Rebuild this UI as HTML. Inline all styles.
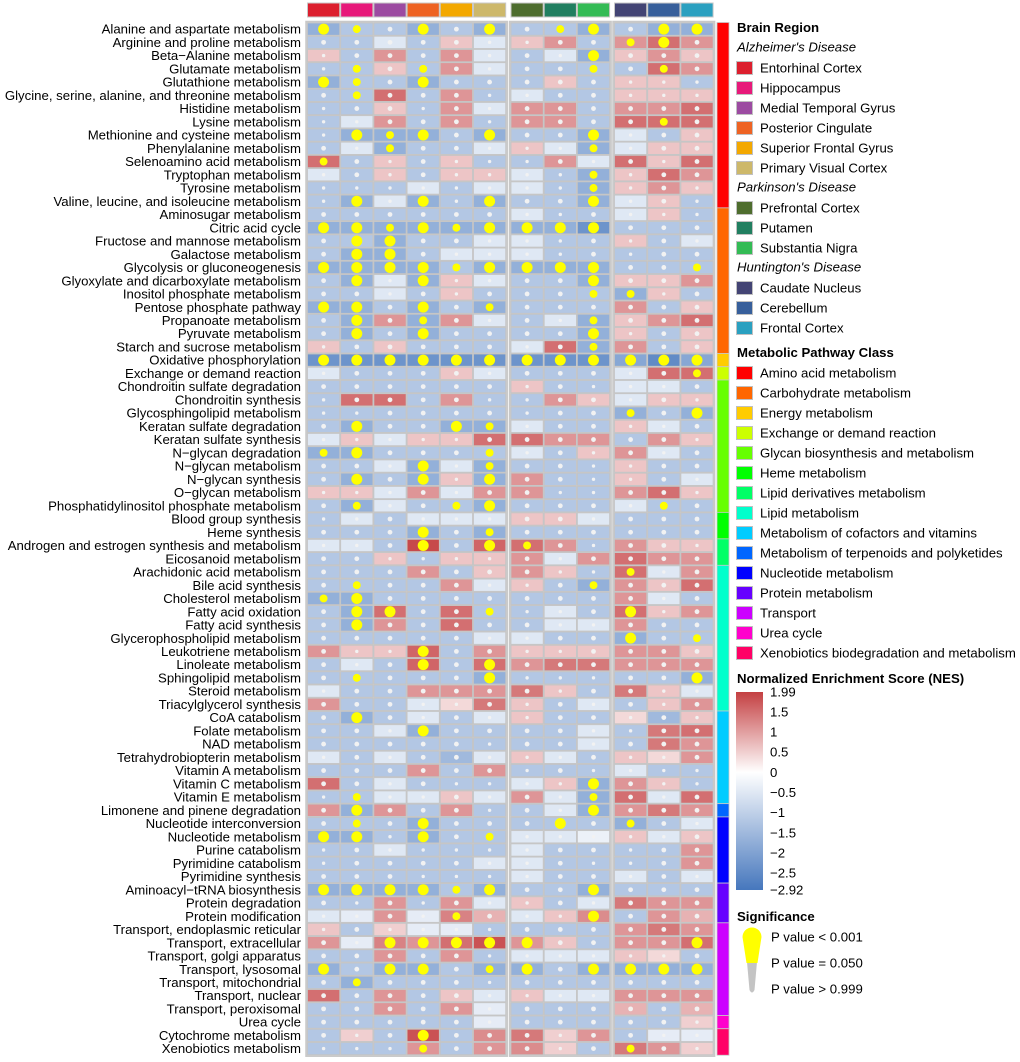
<!DOCTYPE html>
<html><head><meta charset="utf-8"><style>
html,body{margin:0;padding:0;background:#fff;}
svg{display:block;font-family:"Liberation Sans",Arial,sans-serif;}
</style></head><body>
<svg id="chart" width="1020" height="1062" viewBox="0 0 1020 1062" xmlns="http://www.w3.org/2000/svg">
<defs>
<linearGradient id="nesgrad" x1="0" y1="0" x2="0" y2="1">
<stop offset="0" stop-color="rgb(196,64,66)"/>
<stop offset="0.405" stop-color="#ffffff"/>
<stop offset="1" stop-color="rgb(70,119,189)"/>
</linearGradient>
</defs>
<g id="heat"></g>
<g id="legend"></g>
</svg>
<script>
const pathways = ["Alanine and aspartate metabolism","Arginine and proline metabolism","Beta\u2212Alanine metabolism","Glutamate metabolism","Glutathione metabolism","Glycine, serine, alanine, and threonine metabolism","Histidine metabolism","Lysine metabolism","Methionine and cysteine metabolism","Phenylalanine metabolism","Selenoamino acid metabolism","Tryptophan metabolism","Tyrosine metabolism","Valine, leucine, and isoleucine metabolism","Aminosugar metabolism","Citric acid cycle","Fructose and mannose metabolism","Galactose metabolism","Glycolysis or gluconeogenesis","Glyoxylate and dicarboxylate metabolism","Inositol phosphate metabolism","Pentose phosphate pathway","Propanoate metabolism","Pyruvate metabolism","Starch and sucrose metabolism","Oxidative phosphorylation","Exchange or demand reaction","Chondroitin sulfate degradation","Chondroitin synthesis","Glycosphingolipid metabolism","Keratan sulfate degradation","Keratan sulfate synthesis","N\u2212glycan degradation","N\u2212glycan metabolism","N\u2212glycan synthesis","O\u2212glycan metabolism","Phosphatidylinositol phosphate metabolism","Blood group synthesis","Heme synthesis","Androgen and estrogen synthesis and metabolism","Eicosanoid metabolism","Arachidonic acid metabolism","Bile acid synthesis","Cholesterol metabolism","Fatty acid oxidation","Fatty acid synthesis","Glycerophospholipid metabolism","Leukotriene metabolism","Linoleate metabolism","Sphingolipid metabolism","Steroid metabolism","Triacylglycerol synthesis","CoA catabolism","Folate metabolism","NAD metabolism","Tetrahydrobiopterin metabolism","Vitamin A metabolism","Vitamin C metabolism","Vitamin E metabolism","Limonene and pinene degradation","Nucleotide interconversion","Nucleotide metabolism","Purine catabolism","Pyrimidine catabolism","Pyrimidine synthesis","Aminoacyl\u2212tRNA biosynthesis","Protein degradation","Protein modification","Transport, endoplasmic reticular","Transport, extracellular","Transport, golgi apparatus","Transport, lysosomal","Transport, mitochondrial","Transport, nuclear","Transport, peroxisomal","Urea cycle","Cytochrome metabolism","Xenobiotics metabolism"];
const regions = ["Entorhinal Cortex","Hippocampus","Medial Temporal Gyrus","Posterior Cingulate","Superior Frontal Gyrus","Primary Visual Cortex","Prefrontal Cortex","Putamen","Substantia Nigra","Caudate Nucleus","Cerebellum","Frontal Cortex"];
const regionColors = ["#dc1f2e","#e7197a","#9c4ba1","#ee6323","#f3a800","#cdb86a","#4e6d2e","#217f60","#33bb55","#434474","#375f9b","#2aa0c0"];
const diseases = ["Alzheimer's Disease","Parkinson's Disease","Huntington's Disease"];
const diseaseCounts = [6,3,3];
const classes = ["Amino acid metabolism","Carbohydrate metabolism","Energy metabolism","Exchange or demand reaction","Glycan biosynthesis and metabolism","Heme metabolism","Lipid derivatives metabolism","Lipid metabolism","Metabolism of cofactors and vitamins","Metabolism of terpenoids and polyketides","Nucleotide metabolism","Protein metabolism","Transport","Urea cycle","Xenobiotics biodegradation and metabolism"];
const classColors = ["#ff0000","#ff6600","#ffcc00","#ccff00","#66ff00","#00ff00","#00ff66","#00ffcc","#00ccff","#0066ff","#0000ff","#6600ff","#cc00ff","#ff00cc","#ff0066"];
const classCounts = [14,11,1,1,10,2,2,11,7,1,5,3,7,1,2];
const nesTicks = [1.99,1.5,1,0.5,0,-0.5,-1,-1.5,-2,-2.5,-2.92];
const nes = [
[-1.7,-1.2,-1.2,-1.7,-1.2,-1.7,-1.2,-1.2,-1.7,-1.2,-1.7,-1.7],
[-1.2,-1.2,-0.5,-1.2,0.6,-0.5,0.6,1.1,-1.2,1.1,1.5,1.1],
[0.6,-1.2,1.1,-1.2,1.1,-0.5,-1.2,-0.5,-1.7,0.6,1.1,0.6],
[-1.2,-1.2,0.6,-1.2,1.1,-0.5,-1.2,-1.2,-1.2,-1.2,1.5,1.1],
[-1.7,-1.2,-1.2,-1.7,-1.2,-1.2,-1.2,0.6,-1.2,0.6,0.6,-1.2],
[-1.2,-1.2,1.5,-1.2,1.1,-1.2,-0.5,-1.2,-1.2,0.6,0.6,0.6],
[-1.2,-1.2,0.6,-1.2,1.1,-0.5,1.1,1.1,-1.2,1.1,1.1,1.5],
[-1.2,-0.5,1.1,-1.2,1.1,-1.2,1.1,1.1,-1.2,1.5,1.5,1.5],
[-1.2,-1.7,-1.7,-1.7,-1.2,-1.7,-1.2,-1.2,-1.7,-0.5,-1.2,0.6],
[-1.2,-0.5,-1.7,-1.2,-1.2,-0.5,0.6,-0.5,-1.7,-0.5,0.6,0.6],
[1.5,-1.2,0.6,-1.2,0.6,-1.2,-1.2,1.1,-0.5,1.5,0.6,1.5],
[-0.5,-1.2,0.6,-1.2,0.6,0.6,-0.5,-1.2,-1.7,0.6,1.5,1.1],
[-1.2,-1.2,-1.2,-0.5,-1.2,-0.5,-0.5,-1.2,-1.7,0.6,1.1,0.6],
[-1.2,-1.7,-0.5,-1.7,-1.2,-1.7,-1.2,-1.2,-1.7,-0.5,0.6,-1.2],
[-1.2,-1.2,-1.2,-1.2,-1.2,-1.2,-0.5,-1.2,-1.2,-0.5,0.6,-1.2],
[-1.7,-1.7,-1.7,-1.7,-1.7,-1.7,-1.7,-1.7,-2.3,-1.2,-1.2,-1.2],
[-1.2,-1.2,-1.7,-1.2,-1.2,-0.5,-0.5,-1.2,-1.2,0.6,-1.2,-0.5],
[-1.2,-1.7,-1.7,-1.2,-0.5,-0.5,-0.5,-1.2,-1.2,-1.2,-1.2,-1.2],
[-1.7,-1.7,-1.7,-1.7,-1.2,-1.7,-1.7,-1.7,-1.7,-1.2,-1.2,-1.2],
[-1.2,-1.7,-0.5,-1.7,0.6,-0.5,-1.2,-1.2,-1.7,0.6,0.6,1.1],
[-1.2,-1.2,-0.5,-1.2,0.6,-1.2,-1.2,-1.2,-1.2,-1.7,0.6,-1.2],
[-1.7,-1.7,-1.2,-1.7,-1.2,-1.7,-1.2,-1.2,-1.2,1.1,-1.2,0.6],
[-1.2,-1.7,1.1,-1.7,1.1,-0.5,-1.2,-0.5,-1.7,0.6,1.1,1.5],
[-1.2,-1.7,-1.2,-1.7,-1.2,-1.2,-1.2,-1.2,-1.7,0.6,-1.2,0.6],
[0.6,-1.2,0.6,-1.2,-1.2,-1.2,-0.5,1.5,-1.7,1.1,-1.2,0.6],
[-2.3,-2.3,-2.3,-2.3,-2.3,-2.3,-2.3,-2.3,-2.3,-1.9,-2.5,-1.9],
[-0.5,-1.2,-1.2,-1.2,0.6,-0.5,-1.2,-1.2,-1.2,-0.5,1.5,1.5],
[-1.2,-1.2,-1.2,-1.2,-1.2,-1.2,0.6,-1.2,-1.2,-0.5,-0.5,-1.2],
[-1.2,1.5,1.5,-1.2,1.1,-1.2,-1.2,1.1,0.6,-0.5,0.6,0.6],
[-1.2,-1.2,-1.2,-1.2,-1.2,-1.2,-1.2,-1.2,-1.2,-1.7,-1.2,-1.7],
[-1.2,-1.7,-1.2,-1.2,-1.7,-1.7,-0.5,-1.2,-1.2,0.6,-0.5,-1.2],
[-0.5,0.6,-0.5,0.6,0.6,1.5,1.5,1.1,1.1,-1.2,1.1,0.6],
[-1.7,-1.7,-1.2,-1.2,-1.2,-1.2,-0.5,-1.2,0.6,1.1,-0.5,-1.2],
[-1.2,-1.2,-0.5,-1.7,-0.5,-1.7,-1.2,-1.2,-1.2,0.6,-1.2,-1.2],
[-1.2,-1.7,-1.2,-1.7,0.6,-1.7,1.1,-1.2,-1.2,0.6,-1.2,-0.5],
[0.6,0.6,-0.5,1.1,-0.5,1.1,1.1,-1.2,-1.2,1.1,1.5,0.6],
[-1.2,-1.7,-0.5,-1.2,-1.2,-1.7,-1.2,-1.2,-1.2,-0.5,-1.2,-1.2],
[-1.2,-0.5,-1.2,-0.5,-0.5,-0.5,0.6,0.6,-0.5,-1.2,-1.2,-1.2],
[-1.2,-1.2,-1.2,-1.7,-1.2,-1.7,-1.2,-1.2,-1.2,-1.2,-1.2,-1.2],
[-0.5,-0.5,-1.2,1.9,-1.2,1.6,1.5,1.1,-1.2,1.1,0.6,0.6],
[-1.2,-1.2,0.6,-1.2,0.6,0.6,1.1,-0.5,1.1,1.5,1.1,1.1],
[-1.2,-1.2,-1.2,1.1,-1.2,0.6,1.1,0.6,-1.2,1.5,-0.5,1.1],
[-1.2,-1.2,-1.2,-1.2,1.1,-0.5,0.6,-1.2,-1.7,1.1,0.6,1.5],
[-1.7,-1.7,-1.2,-1.2,-1.2,-1.2,-1.2,-1.2,-1.2,1.1,-0.5,-1.2],
[-1.2,-1.7,1.5,-1.2,1.5,-1.2,-1.2,-0.5,-1.2,1.5,0.6,1.1],
[-1.2,-1.7,1.1,-1.2,1.5,-1.2,-1.2,-0.5,-0.5,1.1,-1.2,-1.2],
[-1.2,-1.2,-1.2,-1.2,-1.2,-0.5,-0.5,-1.2,-1.2,-1.7,-1.2,-1.2],
[1.1,0.6,0.6,1.6,-1.2,1.1,0.6,0.6,0.6,1.1,1.1,0.6],
[-1.2,-0.5,-1.2,1.6,-1.2,1.5,1.1,1.4,1.4,1.1,1.1,1.1],
[-1.2,-1.2,-1.2,-1.2,-1.2,-1.7,-1.2,-1.2,-1.2,-1.2,-1.2,-1.7],
[-0.5,-1.2,-1.2,1.1,1.1,1.1,1.4,0.6,-1.2,1.4,0.6,-0.5],
[1.1,-1.2,-1.2,-0.5,0.4,1.4,0.6,-1.2,-0.5,-1.2,0.6,1.1],
[-1.2,-1.7,-1.2,-0.5,-1.2,-0.5,0.6,-1.2,-1.2,0.4,-1.5,0.6],
[-1.2,-1.2,-0.5,-1.7,-1.2,-1.2,-1.2,-1.2,-0.5,-1.2,1.4,1.5],
[-1.2,-1.2,-1.2,-1.2,-1.2,-1.2,-1.2,-1.2,-0.5,-1.2,1.4,1.1],
[-0.5,-1.2,-0.5,-1.2,-1.5,-0.5,0.6,-0.5,-1.2,0.6,0.4,1.1],
[-1.2,-1.2,-1.2,1.1,-1.2,1.1,-1.2,-1.2,-1.2,-0.5,-1.2,-1.2],
[1.5,-1.2,-0.5,-1.2,-1.2,-1.2,-0.5,0.6,-1.7,1.1,0.6,-1.2],
[-1.2,-1.2,-0.5,-0.5,0.6,-0.5,1.1,-0.5,-1.7,1.5,-0.5,1.5],
[1.1,-1.7,1.1,-1.2,1.1,-1.2,-1.2,-0.5,-1.7,1.1,1.4,1.1],
[-1.2,-1.2,-1.2,-1.7,-1.2,-1.2,-1.2,-1.2,-1.2,-1.7,-1.2,-0.5],
[-1.7,-1.7,-1.2,-1.7,-1.2,-1.2,-0.5,-0.5,-0.3,0.6,-0.5,0.6],
[-1.2,-1.2,-0.5,-1.2,-1.2,-1.2,-0.5,-1.2,-1.2,-1.2,-1.2,1.1],
[-1.2,-1.2,-1.2,-1.2,-1.2,-0.5,-0.5,-1.2,-1.2,-1.2,-1.2,1.1],
[-1.2,-1.2,-1.2,-1.2,-1.2,-1.2,-0.5,-1.2,-1.2,-0.5,-1.2,-0.5],
[-1.7,-1.7,-1.7,-1.7,-1.2,-1.7,-1.2,-1.2,-1.7,-1.2,-1.2,-1.2],
[-1.2,-1.2,1.1,-1.2,1.1,-0.5,0.6,-1.2,-0.5,1.4,1.1,1.1],
[-0.5,-0.4,1.1,-0.4,1.3,0.8,-0.5,0.6,1.2,-1.2,1.1,0.8],
[0.6,-1.2,0.5,-0.4,-0.4,-1.2,-1.2,-1.2,-1.2,1.1,1.4,1.1],
[1.1,-0.4,1.3,1.1,1.5,1.8,1.1,0.6,-1.2,1.1,1.1,1.5],
[-1.2,-1.2,1.1,-1.2,1.1,-1.2,-0.5,-0.5,-0.5,0.6,0.4,-1.2],
[-1.7,-1.2,-1.7,-1.7,-1.2,-1.7,-1.7,-1.2,-1.7,-1.7,-1.7,-1.7],
[-1.2,-1.7,-1.2,-1.2,-1.2,-1.2,-1.2,-1.2,-1.2,-1.2,-1.2,-1.2],
[1.5,-1.2,1.1,-1.2,0.6,-0.5,0.6,-0.5,-0.5,1.1,1.1,1.1],
[-1.2,-1.2,1.1,-1.2,1.1,-0.4,-1.2,-1.2,-1.2,0.8,-1.2,0.8],
[-1.2,-1.2,-1.2,-1.2,-1.2,-0.4,-1.2,-1.2,-1.2,-1.2,-1.2,0.5],
[-1.2,0.5,-1.2,1.8,-1.2,1.2,1.4,0.5,1.1,-1.2,-0.4,-0.4],
[-1.2,-1.2,-1.2,1.1,-1.2,1.1,1.2,0.5,-1.2,1.4,1.1,0.5]
];
const pval = [
[0.0005,0.02,0.3,0.0005,0.3,0.0005,0.3,0.02,0.0005,0.3,0.0005,0.0005],
[0.3,0.3,0.3,0.3,0.3,0.8,0.8,0.3,0.3,0.02,0.0005,0.3],
[0.8,0.3,0.3,0.3,0.3,0.8,0.3,0.8,0.0005,0.3,0.3,0.3],
[0.8,0.02,0.3,0.02,0.3,0.8,0.3,0.3,0.02,0.3,0.02,0.3],
[0.0005,0.02,0.3,0.0005,0.3,0.3,0.3,0.3,0.3,0.8,0.8,0.8],
[0.3,0.02,0.3,0.3,0.3,0.8,0.8,0.3,0.3,0.8,0.8,0.8],
[0.8,0.3,0.3,0.8,0.3,0.8,0.3,0.3,0.3,0.3,0.3,0.3],
[0.8,0.8,0.3,0.3,0.3,0.8,0.3,0.3,0.3,0.3,0.02,0.3],
[0.8,0.0005,0.02,0.0005,0.3,0.0005,0.3,0.3,0.0005,0.8,0.3,0.3],
[0.3,0.8,0.02,0.3,0.3,0.8,0.8,0.8,0.02,0.8,0.3,0.3],
[0.02,0.3,0.8,0.3,0.8,0.8,0.8,0.3,0.8,0.3,0.8,0.3],
[0.8,0.3,0.8,0.3,0.8,0.8,0.8,0.8,0.02,0.8,0.3,0.3],
[0.8,0.8,0.8,0.8,0.8,0.8,0.8,0.8,0.02,0.8,0.3,0.8],
[0.8,0.0005,0.8,0.0005,0.8,0.0005,0.3,0.3,0.0005,0.8,0.3,0.8],
[0.3,0.3,0.3,0.3,0.3,0.3,0.8,0.8,0.3,0.8,0.8,0.8],
[0.0005,0.0005,0.02,0.0005,0.02,0.0005,0.0005,0.0005,0.0005,0.3,0.3,0.3],
[0.3,0.0005,0.0005,0.3,0.3,0.8,0.8,0.8,0.3,0.8,0.3,0.8],
[0.3,0.0005,0.0005,0.3,0.8,0.8,0.8,0.8,0.3,0.8,0.3,0.3],
[0.0005,0.0005,0.0005,0.0005,0.02,0.0005,0.0005,0.0005,0.0005,0.3,0.3,0.02],
[0.3,0.0005,0.8,0.0005,0.8,0.8,0.3,0.3,0.0005,0.3,0.3,0.3],
[0.3,0.3,0.8,0.3,0.8,0.3,0.3,0.3,0.02,0.02,0.8,0.3],
[0.0005,0.0005,0.3,0.0005,0.3,0.02,0.3,0.3,0.3,0.3,0.3,0.3],
[0.3,0.0005,0.3,0.02,0.3,0.8,0.3,0.8,0.02,0.3,0.3,0.3],
[0.3,0.0005,0.3,0.0005,0.3,0.3,0.3,0.3,0.0005,0.8,0.3,0.3],
[0.8,0.3,0.3,0.3,0.3,0.3,0.8,0.3,0.02,0.3,0.3,0.3],
[0.0005,0.0005,0.0005,0.0005,0.0005,0.0005,0.0005,0.0005,0.0005,0.0005,0.0005,0.0005],
[0.8,0.3,0.3,0.3,0.3,0.8,0.3,0.3,0.3,0.8,0.3,0.02],
[0.3,0.3,0.3,0.3,0.3,0.3,0.8,0.3,0.8,0.8,0.8,0.3],
[0.8,0.3,0.3,0.3,0.3,0.8,0.8,0.3,0.3,0.8,0.3,0.8],
[0.8,0.8,0.3,0.3,0.3,0.3,0.8,0.3,0.3,0.02,0.3,0.0005],
[0.3,0.0005,0.3,0.3,0.0005,0.02,0.8,0.3,0.3,0.8,0.8,0.3],
[0.8,0.8,0.8,0.8,0.8,0.3,0.3,0.3,0.3,0.3,0.3,0.8],
[0.02,0.0005,0.3,0.3,0.3,0.02,0.8,0.3,0.8,0.3,0.8,0.3],
[0.3,0.3,0.8,0.0005,0.8,0.02,0.3,0.3,0.8,0.8,0.3,0.3],
[0.3,0.0005,0.3,0.0005,0.8,0.0005,0.3,0.3,0.8,0.8,0.3,0.8],
[0.8,0.8,0.8,0.3,0.8,0.3,0.3,0.8,0.8,0.3,0.3,0.8],
[0.3,0.02,0.8,0.3,0.02,0.0005,0.3,0.3,0.3,0.8,0.02,0.3],
[0.8,0.8,0.3,0.8,0.8,0.8,0.3,0.3,0.8,0.3,0.3,0.3],
[0.3,0.3,0.3,0.0005,0.3,0.02,0.3,0.3,0.3,0.3,0.3,0.3],
[0.8,0.8,0.3,0.0005,0.3,0.0005,0.02,0.3,0.8,0.3,0.3,0.8],
[0.3,0.3,0.8,0.8,0.8,0.8,0.3,0.8,0.3,0.3,0.3,0.3],
[0.3,0.3,0.3,0.3,0.3,0.3,0.3,0.8,0.8,0.02,0.8,0.3],
[0.3,0.02,0.3,0.3,0.3,0.8,0.8,0.3,0.02,0.3,0.3,0.3],
[0.02,0.0005,0.3,0.3,0.3,0.3,0.3,0.3,0.3,0.3,0.8,0.3],
[0.3,0.0005,0.0005,0.3,0.3,0.02,0.8,0.8,0.3,0.0005,0.8,0.3],
[0.3,0.0005,0.3,0.3,0.3,0.3,0.3,0.8,0.8,0.3,0.3,0.3],
[0.3,0.3,0.3,0.3,0.3,0.8,0.8,0.3,0.3,0.0005,0.3,0.02],
[0.3,0.8,0.8,0.0005,0.3,0.3,0.8,0.8,0.3,0.3,0.3,0.3],
[0.3,0.8,0.3,0.0005,0.3,0.0005,0.3,0.3,0.3,0.3,0.3,0.3],
[0.3,0.02,0.3,0.3,0.3,0.0005,0.8,0.8,0.8,0.3,0.3,0.0005],
[0.8,0.3,0.3,0.3,0.3,0.3,0.3,0.8,0.3,0.3,0.8,0.8],
[0.3,0.3,0.3,0.8,0.8,0.3,0.8,0.3,0.8,0.3,0.8,0.3],
[0.3,0.0005,0.3,0.8,0.3,0.8,0.8,0.3,0.3,0.8,0.3,0.8],
[0.3,0.3,0.8,0.0005,0.3,0.3,0.3,0.3,0.8,0.8,0.3,0.3],
[0.3,0.3,0.3,0.3,0.3,0.8,0.3,0.3,0.8,0.3,0.3,0.3],
[0.8,0.3,0.8,0.3,0.3,0.8,0.8,0.8,0.3,0.8,0.8,0.3],
[0.3,0.3,0.3,0.3,0.3,0.3,0.8,0.3,0.8,0.8,0.8,0.8],
[0.3,0.3,0.8,0.3,0.8,0.8,0.8,0.8,0.0005,0.3,0.8,0.8],
[0.8,0.02,0.8,0.8,0.3,0.8,0.3,0.8,0.02,0.3,0.8,0.3],
[0.3,0.0005,0.3,0.3,0.3,0.8,0.3,0.8,0.0005,0.3,0.3,0.3],
[0.3,0.02,0.3,0.0005,0.3,0.3,0.3,0.0005,0.3,0.02,0.3,0.8],
[0.0005,0.0005,0.8,0.0005,0.3,0.02,0.8,0.8,0.8,0.8,0.8,0.3],
[0.8,0.3,0.8,0.8,0.8,0.8,0.8,0.3,0.3,0.8,0.3,0.3],
[0.8,0.3,0.3,0.3,0.3,0.8,0.8,0.3,0.8,0.8,0.3,0.3],
[0.3,0.3,0.3,0.8,0.8,0.8,0.8,0.3,0.3,0.8,0.3,0.8],
[0.0005,0.0005,0.0005,0.0005,0.02,0.0005,0.3,0.3,0.0005,0.3,0.3,0.3],
[0.3,0.8,0.3,0.8,0.3,0.8,0.8,0.3,0.8,0.3,0.3,0.3],
[0.8,0.8,0.3,0.8,0.02,0.3,0.8,0.8,0.0005,0.3,0.3,0.3],
[0.8,0.3,0.8,0.8,0.8,0.8,0.3,0.3,0.3,0.3,0.3,0.3],
[0.3,0.8,0.0005,0.0005,0.0005,0.0005,0.0005,0.3,0.3,0.3,0.3,0.0005],
[0.3,0.3,0.3,0.3,0.3,0.8,0.8,0.8,0.8,0.8,0.8,0.3],
[0.0005,0.3,0.0005,0.0005,0.3,0.02,0.0005,0.3,0.0005,0.0005,0.0005,0.0005],
[0.3,0.02,0.3,0.3,0.3,0.8,0.3,0.3,0.3,0.3,0.3,0.3],
[0.3,0.3,0.3,0.3,0.3,0.8,0.8,0.8,0.8,0.3,0.3,0.3],
[0.3,0.3,0.3,0.3,0.3,0.8,0.3,0.3,0.3,0.3,0.3,0.3],
[0.3,0.3,0.3,0.3,0.3,0.8,0.3,0.3,0.3,0.3,0.3,0.8],
[0.3,0.8,0.3,0.0005,0.3,0.3,0.3,0.8,0.3,0.3,0.8,0.8],
[0.8,0.8,0.8,0.02,0.3,0.3,0.3,0.8,0.3,0.02,0.3,0.8]
];

const NS = "http://www.w3.org/2000/svg";
function mk(tag, attrs, parent){const e=document.createElementNS(NS,tag);for(const k in attrs)e.setAttribute(k,attrs[k]);(parent||document.getElementById('heat')).appendChild(e);return e;}
const Y0=22.5, RH=13.24, CW=33.2;
const groupX=[307,510.5,614];
function colX(j){let g=j<6?0:(j<9?1:2);let off=j<6?j:(j<9?j-6:j-9);return groupX[g]+off*CW;}
function rowY(i){return Y0+i*RH;}
function nesColor(v){
  let t,c;
  if(v<0){t=Math.min(1,v/-2.92);c=[70,119,189];}else{t=Math.min(1,v/1.99);c=[196,64,66];}
  const r=Math.round(255-t*(255-c[0])),g=Math.round(255-t*(255-c[1])),b=Math.round(255-t*(255-c[2]));
  return `rgb(${r},${g},${b})`;
}
function dotR(p){if(p<=0.001)return 5.5;if(p<=0.05)return 5.5-2*Math.log10(p/0.001)/Math.log10(50);return p<0.5?2.4:1.7;}
function dotColor(p){return p<=0.05?"#ffff00":"#f2f2f2";}

const heat=document.getElementById('heat');
regions.forEach((r,j)=>{
  const e=mk('rect',{x:colX(j)+0.5,y:3,width:CW-1,height:14,fill:regionColors[j],stroke:"#c8c8c8","stroke-width":1});
  
  
});
[[0,6],[6,3],[9,3]].forEach((g,k)=>{
  const e=mk('rect',{x:colX(g[0])-1,y:Y0-1,width:g[1]*CW+2,height:pathways.length*RH+2,fill:"#cfcfcf",stroke:"#c8c8c8","stroke-width":1.5});
  
  
});
nes.forEach((row,i)=>{
  row.forEach((v,j)=>{
    const c=mk('rect',{x:colX(j)+0.5,y:rowY(i)+0.5,width:CW-1,height:RH-1,fill:nesColor(v),stroke:"#c4c4c4","stroke-width":0.8});
    
    
    const p=pval[i][j];
    const d=mk('circle',{cx:colX(j)+CW/2,cy:rowY(i)+RH/2,r:dotR(p),fill:dotColor(p)});
    
    
  });
  const t=mk('text',{x:301,y:rowY(i)+RH/2+4.6,"text-anchor":"end","font-size":"13.2",fill:"#000"});
  t.textContent=pathways[i];
  
  
});
let acc=0;
classCounts.forEach((n,k)=>{
  const e=mk('rect',{x:717,y:rowY(acc),width:12,height:n*RH,fill:classColors[k],stroke:"#c8c8c8","stroke-width":0.8});
  
  
  acc+=n;
});

const lg=document.getElementById('legend');
function txt(x,y,s,opts){const t=mk('text',Object.assign({x:x,y:y,"font-size":"13.2",fill:"#000"},opts||{}),lg);t.textContent=s;return t;}
let t=txt(737,32,"Brain Region",{"font-weight":"bold"});


let yy=47, ri=0;
diseases.forEach((d,k)=>{
  const h=txt(737,yy+4.5,d,{"font-style":"italic"});
  
  
  yy+=21;
  for(let m=0;m<diseaseCounts[k];m++){
    const s=mk('rect',{x:736.5,y:yy-6.5,width:16,height:13,fill:regionColors[ri],stroke:"#c0c0c0","stroke-width":1},lg);
    
    
    const l=txt(760,yy+4.6,regions[ri]);
    
    
    ri++; yy+=20;
  }
  yy-=1;
});
t=txt(737,357,"Metabolic Pathway Class",{"font-weight":"bold"});


classes.forEach((c,k)=>{
  const y=373+k*20;
  const s=mk('rect',{x:736.5,y:y-6.5,width:16,height:13,fill:classColors[k],stroke:"#c0c0c0","stroke-width":1},lg);
  
  
  const l=txt(760,y+4.6,c);
  
  
});
t=txt(737,683,"Normalized Enrichment Score (NES)",{"font-weight":"bold"});


const cb=mk('rect',{x:736,y:692,width:27,height:198,fill:"url(#nesgrad)"},lg);


const CBT=692,CBH=198,VMAX=1.99,VMIN=-2.92;
nesTicks.forEach(v=>{
  const y=CBT+(VMAX-v)/(VMAX-VMIN)*CBH;
  const l=txt(770,y+4.6,String(v).replace('-','\u2212'));
  
  
});
t=txt(737,921,"Significance",{"font-weight":"bold"});


const tail=mk('path',{d:"M747,962 L757,962 L754.5,990 Q752,995 749.5,990 Z",fill:"#c4c4c4"},lg);


const drop=mk('path',{d:"M742.5,937 A9.5,9.5 0 0 1 761.5,937 L757.5,963 L746.5,963 Z",fill:"#ffff00"},lg);


[["P value < 0.001",937],["P value = 0.050",963],["P value > 0.999",989]].forEach(a=>{
  const l=txt(771,a[1]+4.6,a[0]);
  
  
});
</script>
</body></html>
